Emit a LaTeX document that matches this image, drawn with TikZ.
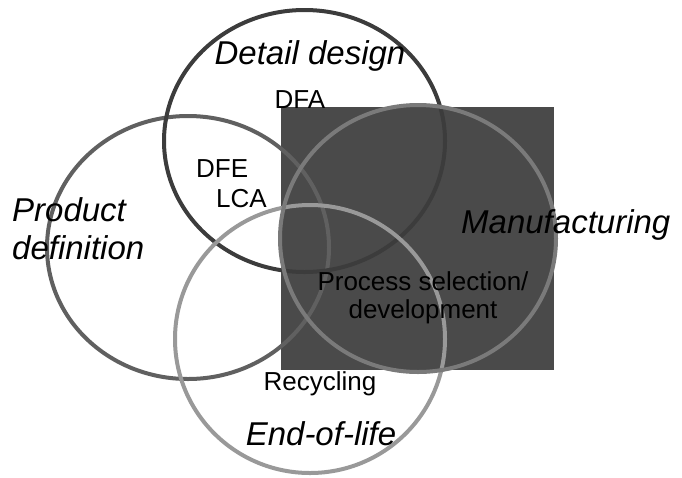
\documentclass[tikz,border=0pt]{standalone}
\usepackage{fontspec}
\setmainfont{Liberation Sans}
\usepackage{tikz}
\usetikzlibrary{positioning}

\definecolor{boxgray}{HTML}{4A4A4A}
\definecolor{detailgray}{HTML}{3C3C3C}
\definecolor{productgray}{HTML}{606060}
\definecolor{manufgray}{HTML}{7A7A7A}
\definecolor{eolgray}{HTML}{999999}

\begin{document}
\begin{tikzpicture}[x=1pt, y=-1pt]
            % Styles
            \tikzstyle{ring} = [line width=4pt]
            \tikzstyle{phase} = [inner sep=0pt, font=\fontsize{33}{38}\selectfont\itshape]
            \tikzstyle{tool} = [inner sep=0pt, font=\fontsize{26}{28}\selectfont]

            \useasboundingbox (0,0) rectangle (682,477);

            % Manufacturing block
            \fill[boxgray] (281,107) rectangle (554,370);

            % Phase circles
            \draw[ring, productgray] (188,247.5) ellipse [x radius=141, y radius=131.5];
            \draw[ring, detailgray] (304.5,141) ellipse [x radius=140.5, y radius=131];
            \draw[ring, eolgray] (310,339) ellipse [x radius=135, y radius=134];
            \draw[ring, manufgray] (418,238.5) ellipse [x radius=138, y radius=133.5];

            % Phase names
            \node[phase, anchor=base] (detail) at (310,64) {Detail design};
            \node[phase, anchor=base west] (product) at (12,221) {Product};
            \node[phase, anchor=base west] (definition) at (12,259) {definition};
            \node[phase, anchor=base west] (manuf) at (461,233) {Manufacturing};
            \node[phase, anchor=base] (eol) at (321,445) {End-of-life};

            % Tools
            \node[tool, anchor=base] (dfa) at (300,108) {DFA};
            \node[tool, anchor=base west] (dfe) at (196,177) {DFE};
            \node[tool, anchor=base west] (lca) at (216,207) {LCA};
            \node[tool, anchor=base] (process) at (423,290) {Process selection/};
            \node[tool, anchor=base] (develop) at (423,318) {development};
            \node[tool, anchor=base] (recycling) at (320,390) {Recycling};
\end{tikzpicture}
\end{document}
